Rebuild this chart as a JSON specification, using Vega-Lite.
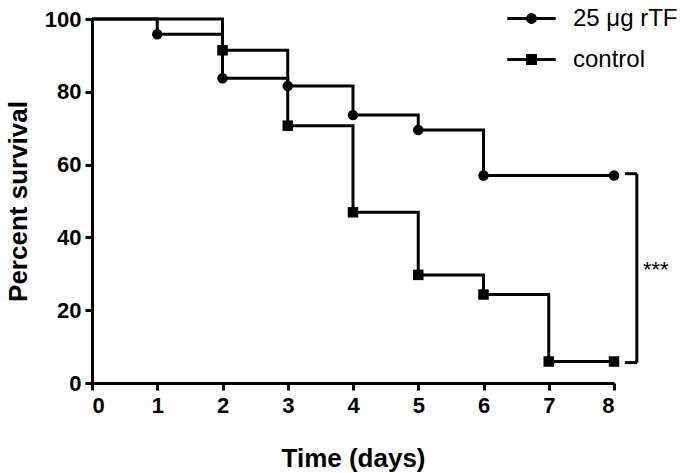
{
  "$schema": "https://vega.github.io/schema/vega-lite/v6.json",
  "width": 522,
  "height": 364,
  "autosize": "none",
  "padding": {"left": 92, "top": 19, "right": 71, "bottom": 90},
  "background": "white",
  "config": {
    "view": {"stroke": null},
    "font": "Liberation Sans",
    "axis": {
      "grid": false,
      "domainColor": "black",
      "domainWidth": 3,
      "tickColor": "black",
      "tickWidth": 3,
      "tickSize": 7,
      "labelColor": "black",
      "labelFont": "Liberation Sans",
      "labelFontSize": 22,
      "labelFontWeight": "bold",
      "titleColor": "black",
      "titleFont": "Liberation Sans",
      "titleFontSize": 26,
      "titleFontWeight": "bold"
    }
  },
  "resolve": {"scale": {"shape": "independent"}},
  "datasets": {
    "curves": [
      {"group": "25 μg rTF", "day": 0, "pct": 100},
      {"group": "25 μg rTF", "day": 1, "pct": 95.8},
      {"group": "25 μg rTF", "day": 2, "pct": 83.7},
      {"group": "25 μg rTF", "day": 3, "pct": 81.6},
      {"group": "25 μg rTF", "day": 4, "pct": 73.6},
      {"group": "25 μg rTF", "day": 5, "pct": 69.5},
      {"group": "25 μg rTF", "day": 6, "pct": 57.0},
      {"group": "25 μg rTF", "day": 8, "pct": 57.0},
      {"group": "control", "day": 0, "pct": 100},
      {"group": "control", "day": 2, "pct": 91.4},
      {"group": "control", "day": 3, "pct": 70.7},
      {"group": "control", "day": 4, "pct": 46.9},
      {"group": "control", "day": 5, "pct": 29.7},
      {"group": "control", "day": 6, "pct": 24.3},
      {"group": "control", "day": 7, "pct": 5.9},
      {"group": "control", "day": 8, "pct": 5.9}
    ],
    "bracket": [
      {"x": 8.35, "x2": 8.35, "y": 57.5, "y2": 5.6},
      {"x": 8.17, "x2": 8.35, "y": 57.5, "y2": 57.5},
      {"x": 8.17, "x2": 8.35, "y": 5.6, "y2": 5.6}
    ],
    "sig": [{"x": 8.64, "y": 31, "label": "***"}]
  },
  "layer": [
    {
      "data": {"name": "curves"},
      "mark": {"type": "line", "interpolate": "step-after", "color": "black", "strokeWidth": 3},
      "encoding": {
        "x": {
          "field": "day", "type": "quantitative",
          "scale": {"domain": [0, 8], "nice": false},
          "axis": {"title": "Time (days)", "values": [0,1,2,3,4,5,6,7,8], "format": "d", "labelPadding": 5, "titlePadding": 29}
        },
        "y": {
          "field": "pct", "type": "quantitative",
          "scale": {"domain": [0, 100], "nice": false},
          "axis": {"title": "Percent survival", "values": [0,20,40,60,80,100], "format": "d", "labelPadding": 4, "titlePadding": 13}
        },
        "detail": {"field": "group", "type": "nominal"}
      }
    },
    {
      "data": {"name": "curves"},
      "transform": [{"filter": "datum.day > 0"}],
      "mark": {"type": "point", "filled": true, "color": "black", "opacity": 1, "size": 110},
      "encoding": {
        "x": {"field": "day", "type": "quantitative"},
        "y": {"field": "pct", "type": "quantitative"},
        "shape": {
          "field": "group", "type": "nominal",
          "scale": {"domain": ["25 μg rTF", "control"], "range": ["circle", "square"]},
          "legend": null
        }
      }
    },
    {
      "data": {"name": "curves"},
      "transform": [{"filter": "datum.day > 0"}],
      "mark": {"type": "point", "filled": false, "color": "black", "strokeWidth": 3, "opacity": 0},
      "encoding": {
        "x": {"field": "day", "type": "quantitative"},
        "y": {"field": "pct", "type": "quantitative"},
        "shape": {
          "field": "group", "type": "nominal",
          "scale": {
            "domain": ["25 μg rTF", "control"],
            "range": [
              "M-2.2,0H2.2M-0.36,0A0.36,0.36,0,1,1,0.36,0A0.36,0.36,0,1,1,-0.36,0M-0.12,0A0.12,0.12,0,1,1,0.12,0A0.12,0.12,0,1,1,-0.12,0",
              "M-2.2,0H2.2M-0.36,-0.36H0.36V0.36H-0.36ZM-0.12,-0.12H0.12V0.12H-0.12Z"
            ]
          },
          "legend": {
            "title": null,
            "orient": "none",
            "legendX": 427,
            "legendY": -13,
            "padding": 0,
            "symbolSize": 484,
            "symbolOpacity": 1,
            "symbolStrokeColor": "black",
            "symbolStrokeWidth": 3,
            "labelFont": "Liberation Sans",
            "labelFontSize": 24,
            "labelColor": "black",
            "labelOffset": 29,
            "rowPadding": 16
          }
        }
      }
    },
    {
      "data": {"name": "bracket"},
      "mark": {"type": "rule", "color": "black", "strokeWidth": 3},
      "encoding": {
        "x": {"field": "x", "type": "quantitative"},
        "x2": {"field": "x2"},
        "y": {"field": "y", "type": "quantitative"},
        "y2": {"field": "y2"}
      }
    },
    {
      "data": {"name": "sig"},
      "mark": {"type": "text", "color": "black", "fontSize": 22, "font": "Liberation Sans", "baseline": "middle", "align": "center"},
      "encoding": {
        "x": {"field": "x", "type": "quantitative"},
        "y": {"field": "y", "type": "quantitative"},
        "text": {"field": "label"}
      }
    }
  ]
}
